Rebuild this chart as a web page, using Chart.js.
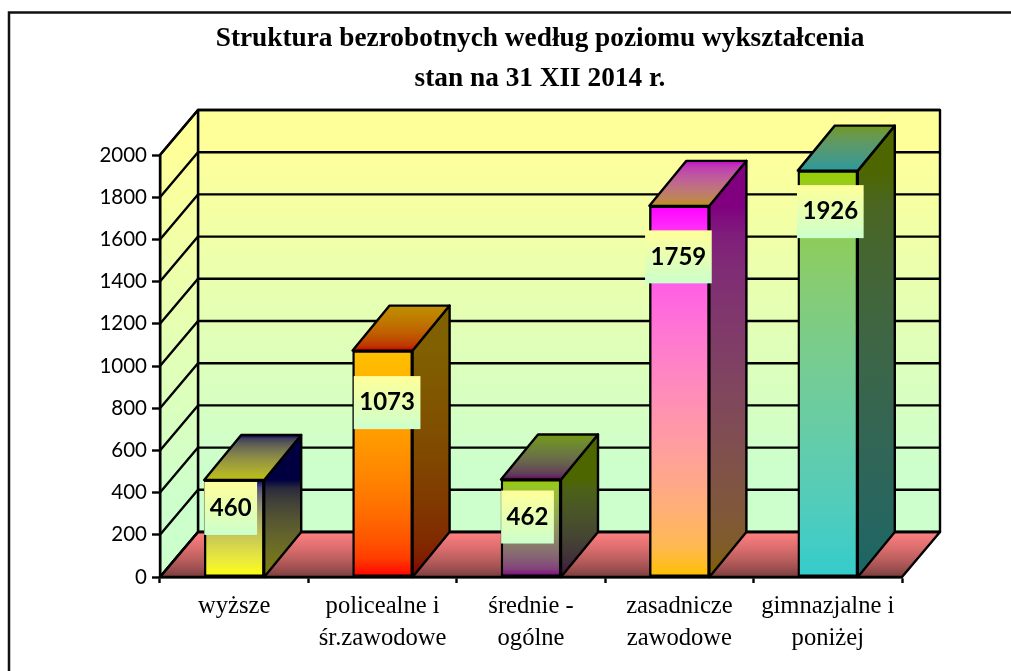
<!DOCTYPE html>
<html><head><meta charset="utf-8">
<style>html,body{margin:0;padding:0;background:#fff;overflow:hidden}#w{position:relative;width:1011px;height:671px}</style>
<script src="https://cdn.jsdelivr.net/npm/chart.js@4"></script>
</head><body><div id="w"><canvas id="c" width="1011" height="671"></canvas></div>
<script>
const titleLines = ['Struktura bezrobotnych według poziomu wykształcenia','stan na 31 XII 2014 r.'];
const categories = [['wyższe'],['policealne i','śr.zawodowe'],['średnie -','ogólne'],['zasadnicze','zawodowe'],['gimnazjalne i','poniżej']];
const values = [460,1073,462,1759,1926];
const topColors = [[0,0,128],[255,192,0],[153,204,0],[255,0,255],[153,204,0]];
const bottomColors = [[255,255,0],[255,0,0],[128,0,128],[255,192,0],[51,204,204]];
const labelShift = [[-3.5,28.5],[4.5,52],[-3.5,37.5],[-1,51],[2.5,41]];
const DX=38, DY=-45, BDX=37, BDY=-45;
const rgb=(c,k=1)=>`rgb(${c.map(v=>Math.round(v*k)).join(',')})`;
function poly(ctx,pts,fill){ctx.beginPath();pts.forEach((p,i)=>i?ctx.lineTo(p[0],p[1]):ctx.moveTo(p[0],p[1]));ctx.closePath();if(fill){ctx.fillStyle=fill;ctx.fill();}ctx.stroke();}
function grad(ctx,y0,y1,a,b){const g=ctx.createLinearGradient(0,y0,0,y1);g.addColorStop(0,a);g.addColorStop(1,b);return g;}
function wallGrad(ctx,y0,y1){const g=ctx.createLinearGradient(0,y0,0,y1);g.addColorStop(0.08,'rgb(255,255,153)');g.addColorStop(0.85,'rgb(204,255,204)');return g;}
function lightGrad(ctx,y0,y1,a,b,k=1){const g=ctx.createLinearGradient(0,y0,0,y1);const n=12;
 for(let i=0;i<=n;i++){const t=i/n;g.addColorStop(t,rgb(a.map((v,j)=>Math.pow((1-t)*Math.pow(v,2.2)+t*Math.pow(b[j],2.2),1/2.2)),k));}return g;}
const scene={id:'scene',
 afterLayout(chart){const t=chart.titleBlock;t.left=178;t.right=902;},
 beforeDraw(chart){const {ctx,chartArea:a,scales:{y}}=chart;ctx.save();
  ctx.fillStyle='#fff';ctx.fillRect(0,0,chart.width,chart.height);
  ctx.strokeStyle='#111';ctx.lineWidth=2.5;ctx.beginPath();ctx.moveTo(9,671);ctx.lineTo(9,12.5);ctx.lineTo(1011,12.5);ctx.stroke();
  ctx.strokeStyle='#000';ctx.lineWidth=2.4;ctx.lineJoin='round';
  poly(ctx,[[a.left+DX,a.top+DY],[a.right+DX,a.top+DY],[a.right+DX,a.bottom+DY],[a.left+DX,a.bottom+DY]],wallGrad(ctx,a.top+DY,a.bottom+DY));
  poly(ctx,[[a.left,a.top],[a.left+DX,a.top+DY],[a.left+DX,a.bottom+DY],[a.left,a.bottom]],wallGrad(ctx,a.top+DY,a.bottom));
  poly(ctx,[[a.left,a.bottom],[a.left+DX,a.bottom+DY],[a.right+DX,a.bottom+DY],[a.right,a.bottom]],lightGrad(ctx,a.bottom+DY,a.bottom,[255,128,128],[120,60,60]));
  y.ticks.forEach(t=>{const p=y.getPixelForValue(t.value);ctx.beginPath();ctx.moveTo(a.left,p);ctx.lineTo(a.left+DX,p+DY);ctx.lineTo(a.right+DX,p+DY);ctx.stroke();});
  ctx.restore();},
 afterDatasetsDraw(chart){const {ctx,scales:{y}}=chart;const meta=chart.getDatasetMeta(0);const base=y.getPixelForValue(0);ctx.save();
  ctx.strokeStyle='#000';ctx.lineWidth=2.4;ctx.lineJoin='round';
  meta.data.forEach((b,i)=>{const t=b.y,xl=b.x-b.width/2,xr=b.x+b.width/2;
   poly(ctx,[[xr,t],[xr+BDX,t+BDY],[xr+BDX,base+BDY],[xr,base]],lightGrad(ctx,t,base,topColors[i],bottomColors[i],.5));
   poly(ctx,[[xl,t],[xl+BDX,t+BDY],[xr+BDX,t+BDY],[xr,t]],lightGrad(ctx,t+BDY,t,topColors[i],bottomColors[i],.75));
  });
  meta.data.forEach((b,i)=>{const txt=String(values[i]);ctx.font='bold 24px Lato';const tw=ctx.measureText(txt).width;
   const bw=tw+11,bh=53,cx=b.x+labelShift[i][0],cy=b.y+labelShift[i][1];
   ctx.fillStyle=grad(ctx,cy-bh/2,cy+bh/2,'rgb(255,255,153)','rgb(204,255,204)');ctx.fillRect(cx-bw/2,cy-bh/2,bw,bh);
   ctx.fillStyle='#000';ctx.textAlign='center';ctx.textBaseline='middle';ctx.fillText(txt,cx,cy);});
  ctx.restore();}};
new Chart(document.getElementById('c'),{type:'bar',
 data:{labels:categories,datasets:[{data:values,barThickness:60,borderColor:'#000',borderWidth:2.4,borderSkipped:false,clip:false,
  backgroundColor(c){const ch=c.chart;if(!ch.chartArea||c.dataIndex===undefined||!ch.scales.y)return '#888';const i=c.dataIndex;
   return lightGrad(ch.ctx,ch.scales.y.getPixelForValue(values[i]),ch.scales.y.getPixelForValue(0),topColors[i],bottomColors[i]);}}]},
 options:{responsive:false,animation:false,events:[],
  layout:{padding:{left:90,right:109,top:19,bottom:14}},
  plugins:{legend:{display:false},tooltip:{enabled:false},
   title:{display:true,text:titleLines,color:'#000',font:{family:'"Liberation Serif"',size:27.3,weight:'bold',lineHeight:'40px'},padding:{top:0,bottom:56}}},
  scales:{
   y:{min:0,max:2000,ticks:{stepSize:200,color:'#000',font:{family:'Lato',size:20.5},padding:5,callback:v=>String(v)},
      grid:{drawOnChartArea:false,tickLength:8,tickColor:'#000',tickWidth:2.4},border:{color:'#000',width:2.4},
      afterFit(s){s.width=70;}},
   x:{ticks:{color:'#000',font:{family:'"Liberation Serif"',size:24.6,lineHeight:'32px'},padding:8,maxRotation:0,autoSkip:false},
      grid:{drawOnChartArea:false,offset:true,tickLength:6,tickColor:'#000',tickWidth:2.4},border:{color:'#000',width:2.4},
      afterFit(s){s.height=80;}}
  }},plugins:[scene]});
</script></body></html>
